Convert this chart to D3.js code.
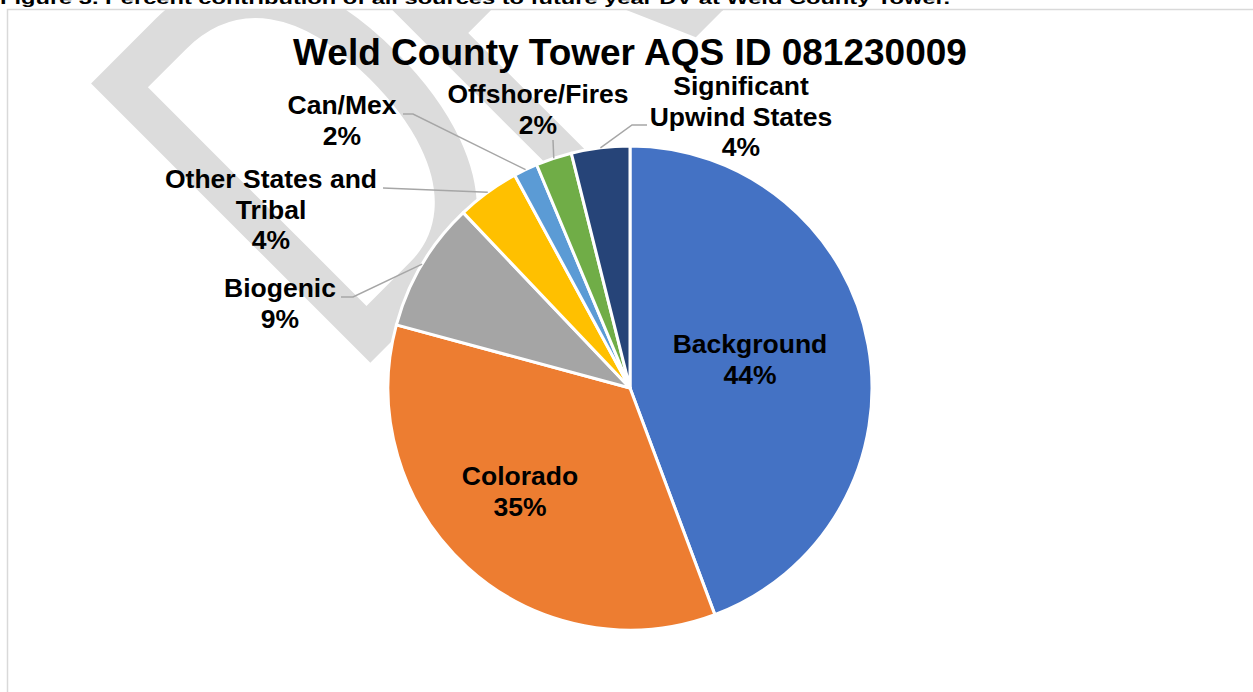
<!DOCTYPE html>
<html>
<head>
<meta charset="utf-8">
<script src="https://cdn.jsdelivr.net/npm/d3@7"></script>
<style>
  html, body { margin: 0; padding: 0; background: #ffffff; }
  svg { display: block; }
</style>
</head>
<body>
<svg id="chart" width="1253" height="692"></svg>
<script>
// ---- data ----
const categories = ["Background", "Colorado", "Biogenic", "Other States and Tribal", "Can/Mex", "Offshore/Fires", "Significant Upwind States"];
const values = [44.3, 34.9, 8.7, 4.2, 1.6, 2.4, 3.9];
const percentLabels = ["44%", "35%", "9%", "4%", "2%", "2%", "4%"];
const labelNameLines = [
  ["Background"],
  ["Colorado"],
  ["Biogenic"],
  ["Other States and", "Tribal"],
  ["Can/Mex"],
  ["Offshore/Fires"],
  ["Significant", "Upwind States"]
];
const colors = ["#4472C4", "#ED7D31", "#A5A5A5", "#FFC000", "#5B9BD5", "#70AD47", "#264478"];
const chartTitle = "Weld County Tower AQS ID 081230009";
const caption = "Figure 3. Percent contribution of all sources to future year DV at Weld County Tower.";

// ---- layout (label placement relative to the pie centre; y = first baseline) ----
const labelLayout = [
  { x: 120, y: -35, leader: null },
  { x: -110, y: 97, leader: null },
  { x: -350, y: -91, leader: [[-289, -91], [-277, -91]] },
  { x: -359, y: -200, leader: [[-247, -200]] },
  { x: -288, y: -274, leader: [[-227, -274], [-217, -274]] },
  { x: -92, y: -285, leader: [[-77, -248]] },
  { x: 111, y: -293, leader: [[17, -263], [2, -263]] }
];

const W = 1253, H = 692;
const cx = 630, cy = 388, R = 242;
const svg = d3.select("#chart");

svg.append("defs").append("clipPath").attr("id", "frame")
  .append("rect").attr("x", 7).attr("y", 9.5).attr("width", W).attr("height", H);

// caption (cut off at the top)
svg.append("text")
  .attr("x", 0).attr("y", 4)
  .attr("font-family", "Liberation Sans, Arial, sans-serif")
  .attr("font-weight", "bold")
  .attr("font-size", 16)
  .attr("textLength", 950)
  .attr("lengthAdjust", "spacingAndGlyphs")
  .attr("fill", "#000")
  .text(caption);

// watermark
const wm = svg.append("g").attr("clip-path", "url(#frame)");
wm.append("text")
  .attr("transform", "translate(347,386) rotate(-45) scale(0.7,1)")
  .attr("font-family", "Liberation Sans, Arial, sans-serif")
  .attr("font-weight", "normal")
  .attr("font-size", 574)
  .attr("letter-spacing", -36)
  .attr("fill", "#DCDCDC")
  .text("DRAFT");

// frame border
svg.append("path")
  .attr("d", `M7.5,${H} L7.5,9.5 L${W},9.5`)
  .attr("fill", "none")
  .attr("stroke", "#D9D9D9")
  .attr("stroke-width", 1.5);

// title
svg.append("text")
  .attr("x", cx).attr("y", 65)
  .attr("text-anchor", "middle")
  .attr("font-family", "Liberation Sans, Arial, sans-serif")
  .attr("font-weight", "bold")
  .attr("font-size", 37)
  .attr("fill", "#000")
  .text(chartTitle);

// pie
const data = categories.map((c, i) => ({
  name: c, value: values[i], color: colors[i],
  lines: labelNameLines[i].concat([percentLabels[i]]), layout: labelLayout[i]
}));
const pie = d3.pie().value(d => d.value).sort(null).startAngle(0).endAngle(2 * Math.PI);
const arcs = pie(data);
const arc = d3.arc().innerRadius(0).outerRadius(R);

const g = svg.append("g").attr("transform", `translate(${cx},${cy})`);
g.selectAll("path.slice").data(arcs).join("path")
  .attr("class", "slice")
  .attr("d", arc)
  .attr("fill", d => d.data.color)
  .attr("stroke", "#fff")
  .attr("stroke-width", 3)
  .attr("stroke-linejoin", "round");

// leader lines: from label to the slice edge at its mid-angle
arcs.forEach(d => {
  const lay = d.data.layout;
  if (!lay.leader) return;
  const mid = (d.startAngle + d.endAngle) / 2;
  const end = [R * Math.sin(mid), -R * Math.cos(mid)];
  const pts = lay.leader.concat([end]);
  g.append("path")
    .attr("d", d3.line()(pts))
    .attr("fill", "none")
    .attr("stroke", "#A6A6A6")
    .attr("stroke-width", 1.5);
});

// labels
const lineH = 30.5;
arcs.forEach(d => {
  const lay = d.data.layout;
  const t = g.append("text")
    .attr("text-anchor", "middle")
    .attr("font-family", "Liberation Sans, Arial, sans-serif")
    .attr("font-weight", "bold")
    .attr("font-size", 26.5)
    .attr("fill", "#000");
  d.data.lines.forEach((ln, k) => {
    t.append("tspan")
      .attr("x", lay.x)
      .attr("y", lay.y + k * lineH)
      .text(ln);
  });
});
</script>
</body>
</html>
